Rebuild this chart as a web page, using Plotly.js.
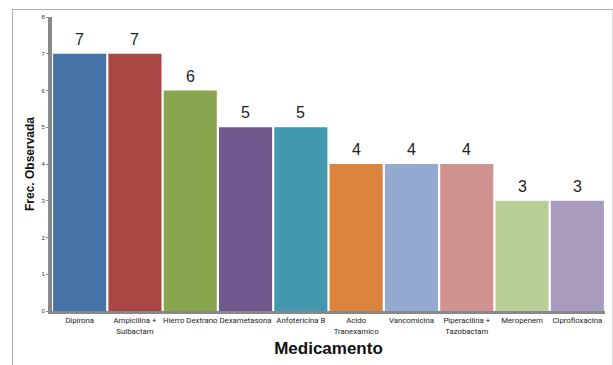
<!DOCTYPE html>
<html>
<head>
<meta charset="utf-8">
<script src="https://cdn.plot.ly/plotly-3.0.1.min.js"></script>
<style>
  html, body { margin: 0; padding: 0; background: #fff; }
  #wrap { position: relative; width: 613px; height: 365px; overflow: hidden; }
  #frame { position: absolute; left: 12px; top: 9px; width: 599px; height: 370px;
           border-left: 1px solid #b0b0b0; border-top: 1px solid #b0b0b0; border-right: 1px solid #dcdcdc; }
  #chart { position: absolute; left: 0; top: 0; width: 613px; height: 365px; }
</style>
</head>
<body>
<div id="wrap">
  <div id="frame"></div>
  <div id="chart"></div>
</div>
<script>
// Medications and observed frequencies
const categories = ['Dipirona', 'Ampicilina +<br>Sulbactam', 'Hierro Dextrano', 'Dexametasona',
  'Anfotericina B', 'Acido<br>Tranexamico', 'Vancomicina', 'Piperacilina +<br>Tazobactam',
  'Meropenem', 'Ciprofloxacina'];
const frequencies = [7, 7, 6, 5, 5, 4, 4, 4, 3, 3];
const barColors = ['#4572A7', '#AA4643', '#89A54E', '#71588F', '#4198AF',
  '#DB843D', '#93A9CF', '#D19392', '#B9CD96', '#A99BBD'];
const yTicks = [0, 1, 2, 3, 4, 5, 6, 7, 8];

const trace = {
  type: 'bar',
  x: categories,
  y: frequencies,
  marker: { color: barColors, line: { width: 0 } },
  hoverinfo: 'x+y'
};

// value labels above each bar
const annotations = categories.map((c, i) => ({
  x: c, y: frequencies[i], xref: 'x', yref: 'y',
  text: String(frequencies[i]), showarrow: false,
  yanchor: 'bottom', yshift: 4,
  font: { family: 'Liberation Sans, Arial, sans-serif', size: 16, color: '#222' }
}));

const layout = {
  width: 613, height: 365,
  margin: { l: 52, r: 8, t: 17, b: 54 },
  paper_bgcolor: 'rgba(0,0,0,0)',
  plot_bgcolor: 'rgba(0,0,0,0)',
  bargap: 0.04,
  showlegend: false,
  font: { family: 'Liberation Sans, Arial, sans-serif', color: '#222' },
  xaxis: {
    type: 'category',
    showline: true, linecolor: '#888', linewidth: 3,
    ticks: '', showgrid: false, zeroline: false,
    tickangle: 0,
    tickfont: { family: 'Roboto, sans-serif', size: 7.8, color: '#222' },
    title: { text: 'Medicamento', standoff: 8,
      font: { family: 'Liberation Sans, Arial, sans-serif', size: 17, color: '#111', weight: 'bold' } }
  },
  yaxis: {
    range: [0, 8], tickvals: yTicks,
    showline: true, linecolor: '#888', linewidth: 4,
    ticks: 'outside', ticklen: 2, tickcolor: '#888', tickwidth: 1,
    showgrid: false, zeroline: false,
    tickfont: { family: 'Liberation Sans, Arial, sans-serif', size: 6, color: '#333' },
    title: { text: 'Frec. Observada', standoff: 5,
      font: { family: 'Liberation Sans, Arial, sans-serif', size: 12, color: '#111', weight: 'bold' } }
  },
  annotations: annotations
};

Plotly.newPlot('chart', [trace], layout, { displayModeBar: false, staticPlot: true });
</script>
</body>
</html>
